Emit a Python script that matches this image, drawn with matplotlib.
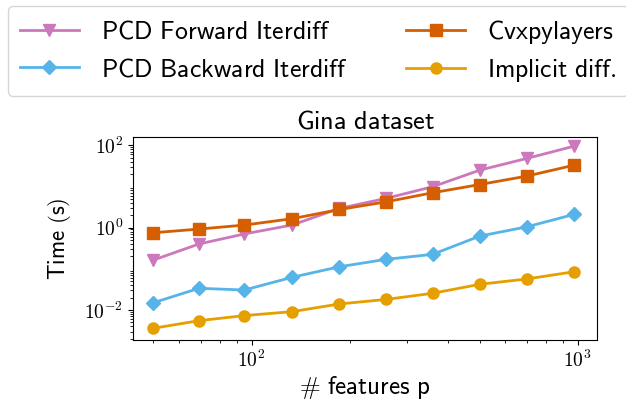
import numpy as np
import matplotlib
matplotlib.use("Agg")
import matplotlib.pyplot as plt
from matplotlib.ticker import FuncFormatter

plt.rcParams['mathtext.fontset'] = 'cm'

# Dados (Gina dataset)
n_features = [50, 69, 95, 133, 186, 258, 359, 501, 697, 975]
t_forward = [0.163, 0.40, 0.70, 1.15, 2.92, 5.1, 9.8, 24.8, 47.5, 94.6]
t_backward = [0.0150, 0.0336, 0.0305, 0.062, 0.112, 0.169, 0.224, 0.622, 1.04, 2.09]
t_cvxpy = [0.75, 0.92, 1.15, 1.64, 2.75, 4.2, 7.0, 11.1, 17.7, 32.7]
t_implicit = [0.0036, 0.0055, 0.0073, 0.0091, 0.014, 0.018, 0.0254, 0.042, 0.0565, 0.0847]

def sf(s):
    return r'$\mathsf{' + s.replace(' ', r'\ ') + '}$'

pow10 = FuncFormatter(lambda v, pos: r'$10^{%d}$' % round(np.log10(v)))

fig = plt.figure(figsize=(6.26, 4.01), dpi=100)
ax = fig.add_axes([0.2125, 0.152, 0.7412, 0.506])

l1, = ax.loglog(n_features, t_forward, color='#CC78BC', marker='v', ms=8, lw=2)
l2, = ax.loglog(n_features, t_backward, color='#56B4E9', marker='D', ms=7.5, lw=2)
l3, = ax.loglog(n_features, t_cvxpy, color='#D55E00', marker='s', ms=8, lw=2)
l4, = ax.loglog(n_features, t_implicit, color='#E69F00', marker='o', ms=8, lw=2)

ax.set_xlim(43.3, 1146)
ax.set_ylim(10**-2.73, 10**2.195)
ax.set_yticks([1e-2, 1e0, 1e2])
ax.xaxis.set_major_formatter(pow10)
ax.yaxis.set_major_formatter(pow10)
ax.tick_params(labelsize=14)
ax.set_title(sf('Gina dataset'), fontsize=19)
ax.set_ylabel(sf('Time (s)'), fontsize=16.5, labelpad=8)
ax.set_xlabel(r'$\#\ \mathsf{features\ p}$', fontsize=18, labelpad=2)

fig.legend([l1, l2, l3, l4],
           [sf('PCD Forward Iterdiff'), sf('PCD Backward Iterdiff'),
            sf('Cvxpylayers'), sf('Implicit diff.')],
           ncol=2, loc='upper left', bbox_to_anchor=(0.013, 0.985),
           borderaxespad=0, fontsize=18.5, handlelength=2.3, handletextpad=0.85,
           columnspacing=2.3, labelspacing=0.45, borderpad=0.45,
           frameon=True, edgecolor='#cccccc')

plt.savefig('out.png')
